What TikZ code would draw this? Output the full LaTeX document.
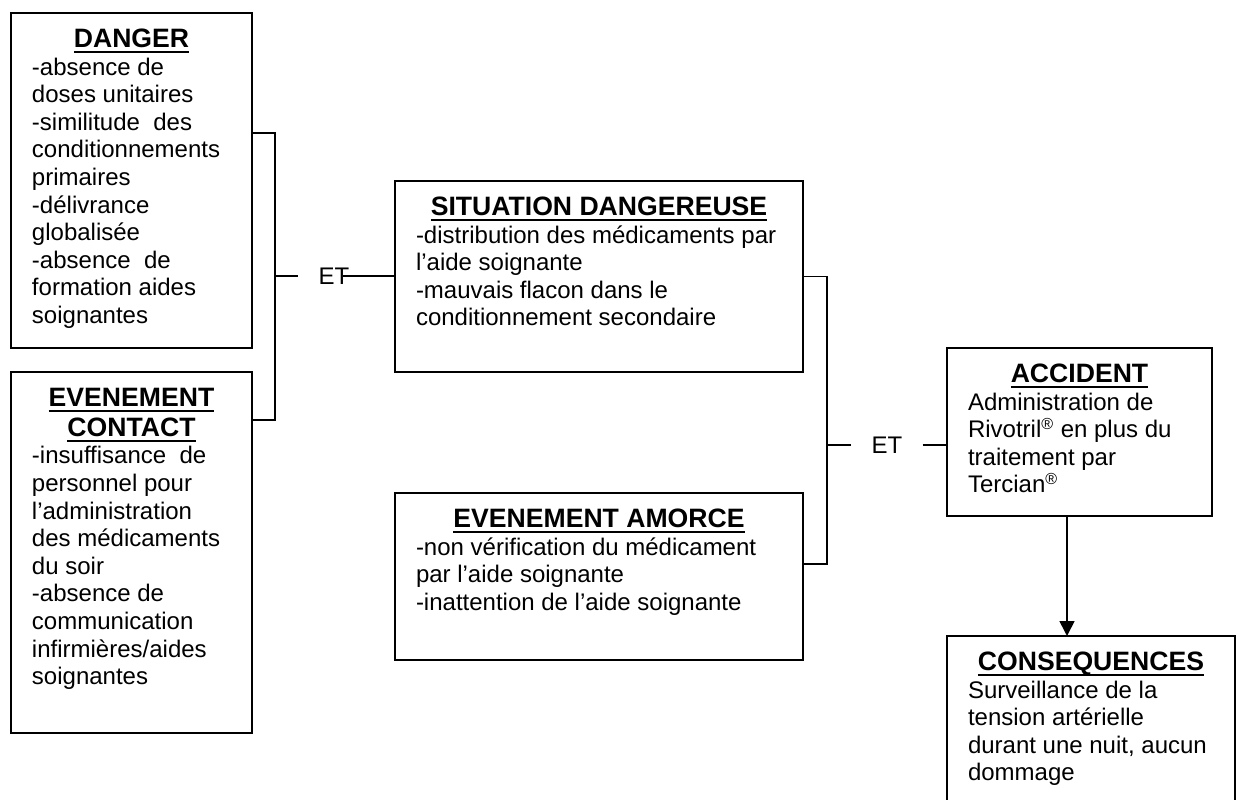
\documentclass[tikz,border=0pt]{standalone}
\usepackage{fontspec}
\setmainfont{Liberation Sans}
\usetikzlibrary{arrows.meta,positioning,calc}

\newcommand\bodyfont{\fontsize{12}{13.8}\selectfont\lineskiplimit=-20pt }
\newcommand\headfont{\fontsize{13.3}{15}\selectfont\bfseries}
\newcommand\boxtitle[1]{\leavevmode\sbox0{#1}\rlap{\rule[-2.7pt]{\wd0}{1pt}}\usebox0}

\tikzset{x=0.5pt, y=-0.5pt, % one unit = one pixel of the page
        riskbox/.style={ % Sets the properties for each box
            draw,
            line width=0.9pt,
            anchor=north west,
            inner xsep=10.5pt,
            inner ysep=8pt,
            outer sep=0pt},
        joint/.style={ % the ET labels
            font=\bodyfont,
            inner sep=0pt},
        link/.style={
            draw,
            line width=0.8pt},
        >={Triangle[width=7.5pt,length=7.5pt]} % filled head on the arrow
        }

\begin{document}
\begin{tikzpicture}
    \useasboundingbox (0,0) rectangle (1238,799);
    \clip (0,0) rectangle (1238,799);

    \node[riskbox] (danger) at (11,13) {\parbox[t][151.5pt][t]{99.5pt}{%
        {\headfont\centering\boxtitle{DANGER}\par}
        \bodyfont\raggedright
        -absence de\\
        doses unitaires\\
        -similitude\ \ des\\
        conditionnements\\
        primaires\\
        -délivrance\\
        globalisée\\
        -absence\ \ de\\
        formation aides\\
        soignantes}};
    \node[riskbox] (contact) at (11,372) {\parbox[t][164.5pt][t]{99.5pt}{%
        {\headfont\centering\boxtitle{EVENEMENT}\\\boxtitle{CONTACT}\par}
        \bodyfont\raggedright
        -insuffisance\ \ de\\
        personnel pour\\
        l’administration\\
        des médicaments\\
        du soir\\
        -absence de\\
        communication\\
        infirmières/aides\\
        soignantes}};
    \node[riskbox] (situation) at (395,181) {\parbox[t][79.5pt][t]{183pt}{%
        {\headfont\centering\boxtitle{SITUATION DANGEREUSE}\par}
        \bodyfont\raggedright
        -distribution des médicaments par\\
        l’aide soignante\\
        -mauvais flacon dans le\\
        conditionnement secondaire}};
    \node[riskbox] (amorce) at (395,493) {\parbox[t][67.5pt][t]{183pt}{%
        {\headfont\centering\boxtitle{EVENEMENT AMORCE}\par}
        \bodyfont\raggedright
        -non vérification du médicament\\
        par l’aide soignante\\
        -inattention de l’aide soignante}};
    \node[riskbox] (accident) at (947,348) {\parbox[t][68pt][t]{111.5pt}{%
        {\headfont\centering\boxtitle{ACCIDENT}\par}
        \bodyfont\raggedright
        Administration de\\
        Rivotril\textsuperscript{\textregistered} en plus du\\
        traitement par\\
        Tercian\textsuperscript{\textregistered}}};
    \node[riskbox] (consequences) at (947,636) {\parbox[t][69pt][t]{123pt}{%
        {\headfont\centering\boxtitle{CONSEQUENCES}\par}
        \bodyfont\raggedright
        Surveillance de la\\
        tension artérielle\\
        durant une nuit, aucun\\
        dommage}};

    \coordinate (jleft) at (275,276);
    \coordinate (jright) at (827,445);
    \node[joint] (et1) at (334,276) {ET};
    \node[joint] (et2) at (887,445) {ET};

    \draw[link] (danger.east |- 0,133) -| (jleft) |- (contact.east |- 0,420);
    \draw[link] (jleft) -- ([xshift=-10pt]et1.west);
    \draw[link] ([xshift=-3.5pt]et1.east) -- (situation.west |- et1);

    \draw[link] (situation.east) -| (jright) |- (amorce.east |- 0,564);
    \draw[link] (jright) -- ([xshift=-10pt]et2.west);
    \draw[link] ([xshift=10pt]et2.east) -- (accident.west |- et2);

    \draw[link,->] (accident.south -| 1067,0) -- (consequences.north -| 1067,0);
\end{tikzpicture}
\end{document}
